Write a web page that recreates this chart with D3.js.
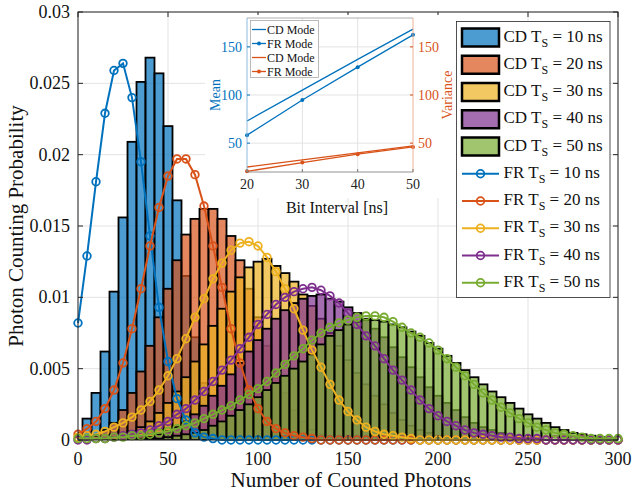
<!DOCTYPE html>
<html><head><meta charset="utf-8">
<script src="https://cdn.jsdelivr.net/npm/d3@7"></script>
<style>body{margin:0;background:#fff;}svg{display:block;font-family:"Liberation Serif","Times New Roman",serif;}</style>
</head><body>
<svg id="c" width="633" height="493"></svg>
<script>
// ---------- data ----------
const binWidth = 5;
const photonCounts = d3.range(0, 301, binWidth); // bin centres 0..300
const seriesNames = ["10", "20", "30", "40", "50"];
const cdT10 = [0.0005,0.0015,0.0033,0.0062,0.0104,0.0156,0.0209,0.0251,0.0268,0.0257,0.0220,0.0168,0.0115,0.0072,0.0040,0.0020,0.0009,0.0004,0.0002,0.0001,
 0,0,0,0,0,0,0,0,0,0,0,0,0,0,0,0,0,0,0,0,0,0,0,0,0,0,0,0,0,0,0,0,0,0,0,0,0,0,0,0,0];
const cdT20 = [0,0,0.0003,0.0007,0.0012,0.0021,0.0033,0.0048,0.0066,0.0086,0.0106,0.0126,0.0144,0.0155,0.0162,0.0162,0.0155,0.0143,0.0126,0.0106,
 0.0086,0.0066,0.0048,0.0033,0.0021,0.0013,0.0007,0.0004,0.0002,0.0001,0,0,0,0,0,0,0,0,0,0,0,0,0,0,0,0,0,0,0,0,0,0,0,0,0,0,0,0,0,0,0];
const cdT30 = [0,0,0,0.0001,0.0002,0.0003,0.0006,0.0009,0.0013,0.0019,0.0026,0.0034,0.0044,0.0055,0.0067,0.0080,0.0092,0.0104,0.0114,0.0121,
 0.0125,0.0127,0.0122,0.0117,0.0111,0.0102,0.0094,0.0085,0.0075,0.0066,0.0056,0.0047,0.0039,0.0031,0.0025,0.0019,0.0014,0.0010,0.0007,0.0005,
 0.0003,0.0002,0.0001,0,0,0,0,0,0,0,0,0,0,0,0,0,0,0,0,0,0];
const cdT40 = [0,0,0,0,0,0,0,0.0001,0.0002,0.0004,0.0006,0.0009,0.0013,0.0018,0.0024,0.0031,0.0038,0.0046,0.0054,0.0062,
 0.0070,0.0078,0.0085,0.0091,0.0096,0.0099,0.0101,0.0102,0.0099,0.0097,0.0093,0.0089,0.0084,0.0078,0.0072,0.0065,0.0058,0.0051,0.0044,0.0037,
 0.0031,0.0026,0.0021,0.0016,0.0012,0.0009,0.0007,0.0005,0.0003,0.0002,0.0001,0,0,0,0,0,0,0,0,0,0];
const cdT50 = [0,0,0,0,0,0,0,0,0.0001,0.0001,0.0002,0.0003,0.0004,0.0005,0.0007,0.0010,0.0013,0.0017,0.0021,0.0025,
 0.0030,0.0035,0.0040,0.0045,0.0050,0.0055,0.0060,0.0067,0.0073,0.0077,0.0081,0.0083,0.0085,0.0084,0.0083,0.0081,0.0079,0.0076,0.0073,0.0068,
 0.0064,0.0059,0.0054,0.0049,0.0044,0.0039,0.0034,0.0030,0.0026,0.0022,0.0018,0.0015,0.0012,0.0009,0.0007,0.0005,0.0004,0.0003,0.0002,0.0001,0.0001];

const frT10 = [0.0082,0.0129,0.0181,0.0229,0.0259,0.0264,0.0240,0.0195,0.0143,0.0093,0.0055,0.0029,0.0014,0.0005,0.0002,0.0001,
 0,0,0,0,0,0,0,0,0,0,0,0,0,0,0,0,0,0,0,0,0,0,0,0,0,0,0,0,0,0,0,0,0,0,0,0,0,0,0,0,0,0,0,0,0];
const frT20 = [0.0004,0.0008,0.0013,0.0022,0.0035,0.0054,0.0078,0.0106,0.0136,0.0163,0.0185,0.0197,0.0197,0.0186,0.0164,0.0136,0.0107,0.0078,0.0054,0.0035,
 0.0022,0.0013,0.0008,0.0005,0.0003,0.0002,0.0001,0,0,0,0,0,0,0,0,0,0,0,0,0,0,0,0,0,0,0,0,0,0,0,0,0,0,0,0,0,0,0,0,0,0];
const frT30 = [0.0002,0.0003,0.0004,0.0006,0.0009,0.0012,0.0016,0.0021,0.0027,0.0035,0.0045,0.0057,0.0071,0.0086,0.0099,0.0113,0.0124,0.0133,0.0138,0.0139,
 0.0136,0.0128,0.0118,0.0106,0.0092,0.0077,0.0063,0.0051,0.0039,0.0028,0.0020,0.0014,0.0009,0.0006,0.0004,0.0003,0.0002,0.0001,0,0,
 0,0,0,0,0,0,0,0,0,0,0,0,0,0,0,0,0,0,0,0,0];
const frT40 = [0,0,0.0001,0.0001,0.0002,0.0003,0.0004,0.0005,0.0007,0.0010,0.0013,0.0018,0.0022,0.0028,0.0034,0.0041,0.0049,0.0056,0.0064,0.0072,
 0.0081,0.0088,0.0095,0.0100,0.0104,0.0106,0.0107,0.0105,0.0101,0.0096,0.0089,0.0081,0.0073,0.0066,0.0057,0.0049,0.0042,0.0035,0.0028,0.0022,
 0.0017,0.0013,0.0010,0.0007,0.0005,0.0004,0.0003,0.0002,0.0002,0.0001,0.0001,0.0001,0,0,0,0,0,0,0,0,0];
const frT50 = [0.0001,0.0001,0.0001,0.0001,0.0002,0.0002,0.0003,0.0003,0.0004,0.0005,0.0006,0.0008,0.0010,0.0012,0.0015,0.0018,0.0021,0.0024,0.0028,0.0032,
 0.0036,0.0041,0.0047,0.0053,0.0059,0.0064,0.0070,0.0075,0.0079,0.0082,0.0084,0.0086,0.0087,0.0087,0.0086,0.0083,0.0079,0.0075,0.0072,0.0068,
 0.0063,0.0057,0.0051,0.0045,0.0039,0.0033,0.0028,0.0023,0.0019,0.0015,0.0012,0.0009,0.0007,0.0005,0.0004,0.0003,0.0002,0.0001,0.0001,0.0001,0.0001];

const xTicks = [0, 50, 100, 150, 200, 250, 300];
const yTicks = [0, 0.005, 0.01, 0.015, 0.02, 0.025, 0.03];
const yTickLabels = ["0", "0.005", "0.01", "0.015", "0.02", "0.025", "0.03"];

// inset data
const bitInterval = [20, 30, 40, 50];
const meanCD = [73, 105, 137, 168.5];
const meanFR = [58.3, 94.8, 128.9, 162.5];
const varCD = [25.2, 32.5, 39.8, 47.1];
const varFR = [20.7, 29.8, 38.5, 46.0];
const insetXTicks = [20, 30, 40, 50];
const insetYTicks = [50, 100, 150];

// ---------- drawing ----------
const colors = ["#0072BD", "#D95319", "#EDB120", "#7E2F8E", "#77AC30"];
const axisCol = "#262626";
const svg = d3.select("#c");
const x = d3.scaleLinear().domain([0, 300]).range([78, 618]);
const y = d3.scaleLinear().domain([0, 0.03]).range([440, 12]);
const [L, R] = x.range(), [B, T] = y.range();

svg.append("rect").attr("width", 633).attr("height", 493).attr("fill", "#fff");
svg.append("defs").append("clipPath").attr("id", "pc").append("rect")
  .attr("x", L).attr("y", T).attr("width", R - L).attr("height", B - T);

// grid
const grid = svg.append("g").attr("stroke", "#e3e3e3").attr("stroke-width", 1);
xTicks.forEach(t => grid.append("line").attr("x1", x(t)).attr("x2", x(t)).attr("y1", T).attr("y2", B));
yTicks.forEach(t => grid.append("line").attr("x1", L).attr("x2", R).attr("y1", y(t)).attr("y2", y(t)));

// histograms
const cdSeries = [cdT10, cdT20, cdT30, cdT40, cdT50];
const barsG = svg.append("g").attr("clip-path", "url(#pc)");
cdSeries.forEach((s, k) => {
  const g = barsG.append("g");
  g.selectAll("rect").data(photonCounts.map((c, i) => [c, s[i]]).filter(d => d[1] > 0)).join("rect")
    .attr("x", d => x(d[0] - binWidth / 2)).attr("width", d => x(d[0] + binWidth / 2) - x(d[0] - binWidth / 2))
    .attr("y", d => y(d[1])).attr("height", d => y(0) - y(d[1]))
    .attr("fill", colors[k]).attr("fill-opacity", 0.7)
    .attr("stroke", "#000").attr("stroke-width", 1.8);
});

// FR lines
const frSeries = [frT10, frT20, frT30, frT40, frT50];
const line = d3.line().x(d => x(d[0])).y(d => y(d[1]));
frSeries.forEach((s, k) => {
  const pts = photonCounts.map((c, i) => [c, s[i]]);
  const g = svg.append("g");
  g.append("path").attr("d", line(pts)).attr("fill", "none").attr("stroke", colors[k]).attr("stroke-width", 2);
  g.selectAll("circle").data(pts).join("circle").attr("cx", d => x(d[0])).attr("cy", d => y(d[1])).attr("r", 3.8)
    .attr("fill", "none").attr("stroke", colors[k]).attr("stroke-width", 1.8);
});

// axes box + ticks
const ax = svg.append("g").attr("stroke", axisCol).attr("stroke-width", 1).attr("fill", "none");
ax.append("rect").attr("x", L).attr("y", T).attr("width", R - L).attr("height", B - T);
xTicks.forEach(t => {
  ax.append("line").attr("x1", x(t)).attr("x2", x(t)).attr("y1", B).attr("y2", B - 5);
  ax.append("line").attr("x1", x(t)).attr("x2", x(t)).attr("y1", T).attr("y2", T + 5);
});
yTicks.forEach(t => {
  ax.append("line").attr("x1", L).attr("x2", L + 5).attr("y1", y(t)).attr("y2", y(t));
  ax.append("line").attr("x1", R).attr("x2", R - 5).attr("y1", y(t)).attr("y2", y(t));
});
const lab = svg.append("g").attr("fill", "#111").attr("font-size", 18);
xTicks.forEach(t => lab.append("text").attr("x", x(t)).attr("y", 465).attr("text-anchor", "middle").text(t));
yTicks.forEach((t, i) => lab.append("text").attr("x", 70).attr("y", y(t) + 6).attr("text-anchor", "end").text(yTickLabels[i]));
svg.append("text").attr("x", 351).attr("y", 487).attr("text-anchor", "middle").attr("font-size", 21).attr("fill", "#111")
  .text("Number of Counted Photons");
svg.append("text").attr("transform", "translate(23,226) rotate(-90)").attr("text-anchor", "middle").attr("font-size", 21).attr("fill", "#111")
  .text("Photon Counting Probability");

// ---------- inset ----------
const ix = d3.scaleLinear().domain([20, 50]).range([247, 413]);
const iy = d3.scaleLinear().domain([20, 180]).range([172, 18]);
const [iL, iR] = ix.range(), [iB, iT] = iy.range();
const blue = colors[0], orange = colors[1];
svg.append("rect").attr("x", 205).attr("y", 15).attr("width", 251).attr("height", 183).attr("fill", "#fff");
const ig = svg.append("g");
const igrid = ig.append("g").attr("stroke", "#e3e3e3");
insetXTicks.slice(1, -1).forEach(t => igrid.append("line").attr("x1", ix(t)).attr("x2", ix(t)).attr("y1", iT).attr("y2", iB));
insetYTicks.forEach(t => igrid.append("line").attr("x1", iL).attr("x2", iR).attr("y1", iy(t)).attr("y2", iy(t)));
const iline = d3.line().x(d => ix(d[0])).y(d => iy(d[1]));
const insetLines = [[meanCD, blue, false], [meanFR, blue, true], [varCD, orange, false], [varFR, orange, true]];
insetLines.forEach(([vals, col, dots]) => {
  const pts = bitInterval.map((b, i) => [b, vals[i]]);
  ig.append("path").attr("d", iline(pts)).attr("fill", "none").attr("stroke", col).attr("stroke-width", 1.3);
  if (dots) ig.selectAll(null).data(pts).join("circle").attr("cx", d => ix(d[0])).attr("cy", d => iy(d[1])).attr("r", 2).attr("fill", col);
});
// inset axes
ig.append("line").attr("x1", iL).attr("x2", iR).attr("y1", iT).attr("y2", iT).attr("stroke", "#999").attr("stroke-width", 0.8);
ig.append("line").attr("x1", iL).attr("x2", iR).attr("y1", iB).attr("y2", iB).attr("stroke", "#777").attr("stroke-width", 0.8);
ig.append("line").attr("x1", iL).attr("x2", iL).attr("y1", iT).attr("y2", iB).attr("stroke", "#7fb3dc").attr("stroke-width", 0.9);
ig.append("line").attr("x1", iR).attr("x2", iR).attr("y1", iT).attr("y2", iB).attr("stroke", "#eca98b").attr("stroke-width", 0.9);
insetXTicks.forEach(t => {
  ig.append("line").attr("x1", ix(t)).attr("x2", ix(t)).attr("y1", iB).attr("y2", iB - 3).attr("stroke", "#777");
  ig.append("text").attr("x", ix(t)).attr("y", iB + 17).attr("text-anchor", "middle").attr("font-size", 14).attr("fill", "#222").text(t);
});
insetYTicks.forEach(t => {
  ig.append("line").attr("x1", iL).attr("x2", iL + 3).attr("y1", iy(t)).attr("y2", iy(t)).attr("stroke", blue);
  ig.append("line").attr("x1", iR).attr("x2", iR - 3).attr("y1", iy(t)).attr("y2", iy(t)).attr("stroke", orange);
  ig.append("text").attr("x", iL - 5).attr("y", iy(t) + 5).attr("text-anchor", "end").attr("font-size", 14).attr("fill", blue).text(t);
  ig.append("text").attr("x", iR + 5).attr("y", iy(t) + 5).attr("text-anchor", "start").attr("font-size", 14).attr("fill", orange).text(t);
});
ig.append("text").attr("transform", "translate(220,95) rotate(-90)").attr("text-anchor", "middle").attr("font-size", 14).attr("fill", blue).text("Mean");
ig.append("text").attr("transform", "translate(452,95) rotate(-90)").attr("text-anchor", "middle").attr("font-size", 14).attr("fill", orange).text("Variance");
ig.append("text").attr("x", 337).attr("y", 213).attr("text-anchor", "middle").attr("font-size", 16).attr("fill", "#111").text("Bit Interval [ns]");
// inset legend
const insetLegend = ["CD Mode", "FR Mode", "CD Mode", "FR Mode"];
ig.append("rect").attr("x", 250.5).attr("y", 20.5).attr("width", 68).attr("height", 57).attr("fill", "#fff").attr("stroke", "#aaa").attr("stroke-width", 0.8);
insetLegend.forEach((t, i) => {
  const yy = 29.5 + i * 14, col = insetLines[i][1];
  ig.append("line").attr("x1", 252).attr("x2", 266).attr("y1", yy).attr("y2", yy).attr("stroke", col).attr("stroke-width", 1.3);
  if (insetLines[i][2]) ig.append("circle").attr("cx", 259).attr("cy", yy).attr("r", 2).attr("fill", col);
  ig.append("text").attr("x", 267).attr("y", yy + 4).attr("font-size", 12).attr("fill", "#111").text(t);
});

// ---------- main legend ----------
const lg = svg.append("g");
lg.append("rect").attr("x", 456.5).attr("y", 21.5).attr("width", 153.5).attr("height", 276).attr("fill", "#fff").attr("stroke", axisCol).attr("stroke-width", 0.8);
const legendItems = seriesNames.map((n, k) => ["CD", n, k]).concat(seriesNames.map((n, k) => ["FR", n, k]));
legendItems.forEach(([mode, n, k], i) => {
  const cy = 37.5 + i * 27.25;
  if (mode === "CD") {
    lg.append("rect").attr("x", 462).attr("y", cy - 9).attr("width", 37).attr("height", 18)
      .attr("fill", colors[k]).attr("fill-opacity", 0.7).attr("stroke", "#000").attr("stroke-width", 2.5);
  } else {
    lg.append("line").attr("x1", 462).attr("x2", 499).attr("y1", cy).attr("y2", cy).attr("stroke", colors[k]).attr("stroke-width", 2);
    lg.append("circle").attr("cx", 480.5).attr("cy", cy).attr("r", 3.8).attr("fill", "none").attr("stroke", colors[k]).attr("stroke-width", 1.8);
  }
  const t = lg.append("text").attr("x", 503.5).attr("y", cy + 4).attr("font-size", 17).attr("fill", "#111");
  t.append("tspan").text(mode + " T");
  t.append("tspan").attr("font-size", 12).attr("dy", 5).text("S");
  t.append("tspan").attr("dy", -5).text(" = " + n + " ns");
});
</script>
</body></html>
